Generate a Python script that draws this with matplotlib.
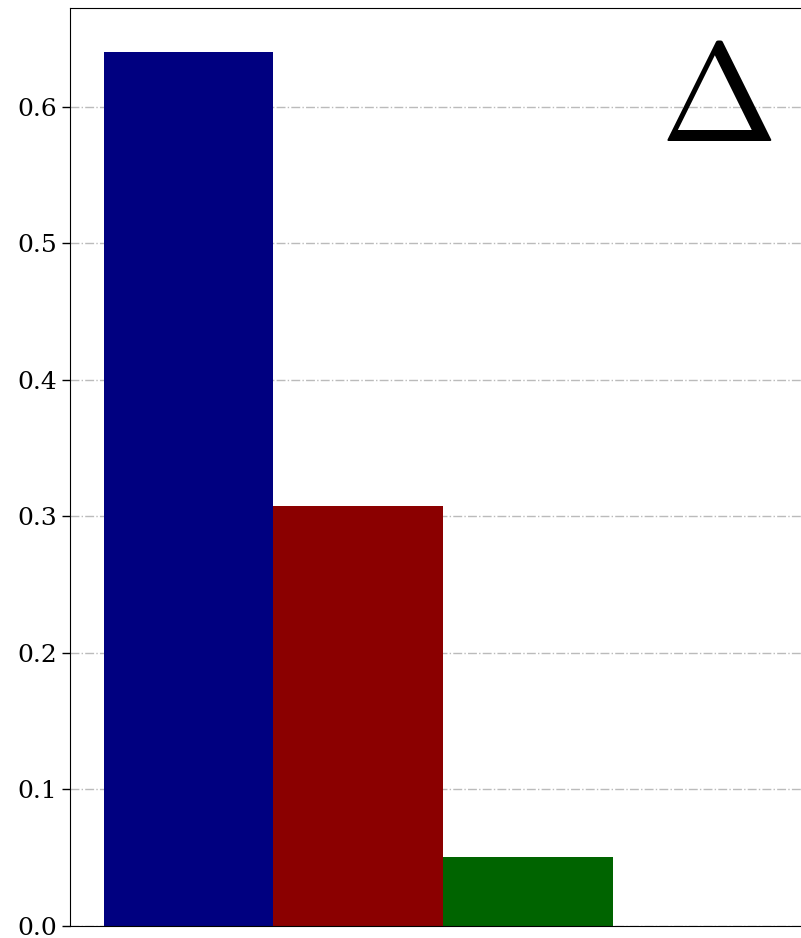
import matplotlib
matplotlib.use("Agg")
import matplotlib.pyplot as plt

categories = ["A", "B", "C"]
values = [0.640, 0.308, 0.0505]
colors = ["#000080", "#8b0000", "#006400"]
yticks = [0.0, 0.1, 0.2, 0.3, 0.4, 0.5, 0.6]

plt.rcParams["font.family"] = ["DejaVu Serif"]
plt.rcParams["mathtext.fontset"] = "cm"

fig = plt.figure(figsize=(8.01, 9.38), dpi=100)
ax = fig.add_axes([70 / 801, 12 / 938, 746 / 801, 918 / 938])

positions = list(range(len(categories)))
ax.bar(positions, values, width=1.0, color=colors, zorder=2)

ax.set_xlim(-0.7, 3.7)
ax.set_ylim(0, 0.6725)
ax.set_yticks(yticks)
ax.set_yticklabels([f"{t:.1f}" for t in yticks], fontsize=18)
ax.set_xticks([])
ax.tick_params(axis="y", length=6, width=1)
ax.yaxis.grid(True, linestyle="-.", color="#bbbbbb", linewidth=1, zorder=0)
ax.set_axisbelow(True)

ax.text(3.11, 0.6035, r"$\Delta$", fontsize=101, ha="center", va="center")

fig.savefig("out.png", dpi=100)
